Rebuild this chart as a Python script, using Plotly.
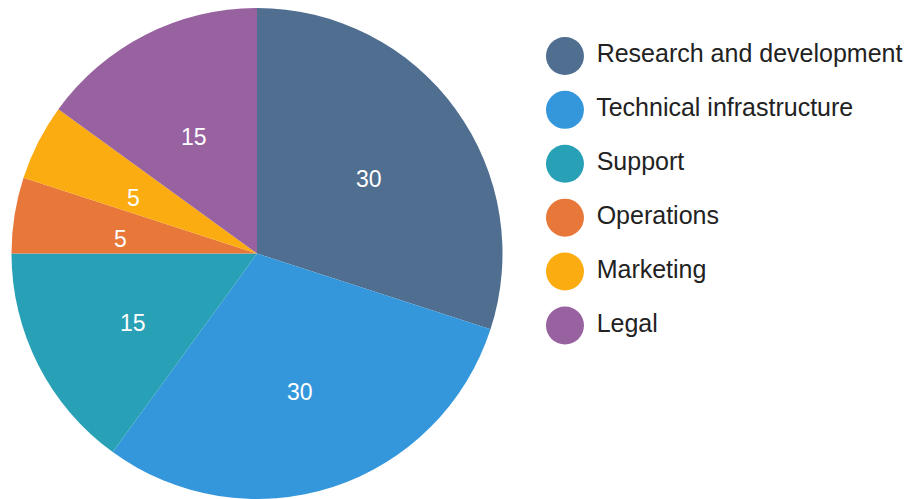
import math
import plotly.graph_objects as go

categories = ["Research and development", "Technical infrastructure", "Support",
              "Operations", "Marketing", "Legal"]
values = [30, 30, 15, 5, 5, 15]
colors = ["#4f6e90", "#3597db", "#28a1b6", "#e8783a", "#fbac10", "#97629f"]

W, H = 903, 491          # page adds an 8px body margin
PIE_X_DOMAIN = [0, 0.5515]

fig = go.Figure()
fig.add_trace(go.Pie(
    labels=categories, values=values, sort=False, direction="clockwise",
    rotation=0, marker=dict(colors=colors, line=dict(width=0)),
    textinfo="none", showlegend=False, hoverinfo="label+value",
    domain=dict(x=PIE_X_DOMAIN, y=[0, 1]),
))

# slice value labels, placed at the mid-angle of each slice
cx = (PIE_X_DOMAIN[0] + PIE_X_DOMAIN[1]) / 2 * W
cy = H / 2
radius = min((PIE_X_DOMAIN[1] - PIE_X_DOMAIN[0]) * W, H) / 2
total = sum(values)
cum = 0
annotations = []
for v in values:
    mid = (cum + v / 2) / total * 2 * math.pi
    cum += v
    r = 0.565 * radius
    px = cx + r * math.sin(mid)
    py = cy - r * math.cos(mid)
    annotations.append(dict(
        x=px / W, y=1 - py / H, xref="paper", yref="paper", text=str(v),
        showarrow=False, xanchor="center", yanchor="middle", yshift=-7,
        font=dict(family="Liberation Sans, Arial, sans-serif", size=23, color="white"),
    ))

# legend drawn as a scatter with large circular markers
idx = [-i for i in range(len(categories))]
fig.add_trace(go.Scatter(
    x=[0.042] * len(categories), y=idx, mode="markers+text",
    marker=dict(size=38, color=colors, line=dict(width=0)),
    text=[" " + c for c in categories], textposition="middle right",
    textfont=dict(family="Liberation Sans, Arial, sans-serif", size=25, color="#222222"),
    showlegend=False, hoverinfo="skip", xaxis="x", yaxis="y", cliponaxis=False,
))

fig.update_layout(
    width=W, height=H,
    margin=dict(l=0, r=0, t=0, b=0),
    paper_bgcolor="white", plot_bgcolor="white",
    xaxis=dict(domain=[0.6, 1.0], range=[0, 1], visible=False, fixedrange=True),
    yaxis=dict(domain=[0, 1], range=[-8.22, 0.89], visible=False, fixedrange=True),
    annotations=annotations,
)

fig.write_html("out.html")
